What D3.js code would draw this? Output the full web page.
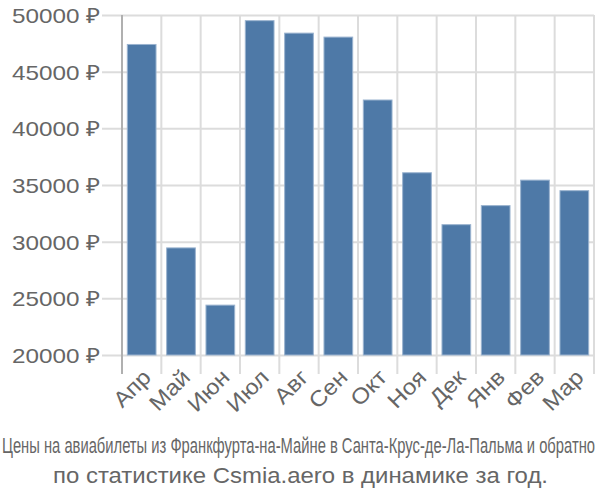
<!DOCTYPE html>
<html><head><meta charset="utf-8">
<script src="https://cdn.jsdelivr.net/npm/d3@7"></script>
<style>body{margin:0;background:#fff}svg{display:block}</style>
</head><body>
<script>
const months = ["Апр","Май","Июн","Июл","Авг","Сен","Окт","Ноя","Дек","Янв","Фев","Мар"];
const prices = [47400,29450,24400,49500,48400,48050,42500,36080,31500,33180,35430,34500];
const yTicks = [20000,25000,30000,35000,40000,45000,50000];
const title1 = "Цены на авиабилеты из Франкфурта-на-Майне в Санта-Крус-де-Ла-Пальма и обратно";
const title2 = "по статистике Csmia.aero в динамике за год.";

const W = 600, H = 500;
const m = {left:122, right:6, top:15, bottom:145};
const svg = d3.select("body").append("svg").attr("width",W).attr("height",H);
const x = d3.scaleBand().domain(months).range([m.left, W-m.right]).paddingInner(0.27).paddingOuter(0.135);
const y = d3.scaleLinear().domain([20000,50000]).range([H-m.bottom, m.top]);
const font = "'Liberation Sans', Arial, sans-serif";
function stretch(sel, k){ sel.each(function(){ const w=this.getComputedTextLength(); d3.select(this).attr("textLength",w*k).attr("lengthAdjust","spacingAndGlyphs"); }); }

// horizontal grid + ticks
const yAxis = d3.axisLeft(y).tickValues(yTicks).tickSize(W-m.right-m.left+20).tickFormat(d=>d+" ₽").tickPadding(2);
const gy = svg.append("g").attr("transform",`translate(${W-m.right},0)`).call(yAxis);
gy.select(".domain").remove();
gy.selectAll("line").attr("stroke","#dcdcdc").attr("stroke-width",2);
gy.selectAll("text").attr("font-family",font).attr("font-size",21).attr("fill","#666").attr("dy","0.36em")
  .each(function(){ d3.select(this).attr("textLength",88).attr("lengthAdjust","spacingAndGlyphs"); });

// vertical grid at band boundaries
const step = x.step();
const bounds = d3.range(months.length+1).map(i => m.left + i*step);
svg.append("g").selectAll("line").data(bounds).join("line")
  .attr("x1",d=>d).attr("x2",d=>d).attr("y1",m.top).attr("y2",H-m.bottom+19)
  .attr("stroke",(d,i)=>i===0?"#b0b0b0":"#dcdcdc").attr("stroke-width",2);

// bars
svg.append("g").selectAll("rect").data(prices).join("rect")
  .attr("x",(d,i)=>x(months[i])).attr("width",x.bandwidth())
  .attr("y",d=>y(d)).attr("height",d=>y(20000)-y(d))
  .attr("fill","#4e79a7").attr("stroke","#9ab3cf").attr("stroke-width",1);

// x labels
svg.append("g").selectAll("text").data(months).join("text")
  .attr("transform",d=>`translate(${x(d)+x.bandwidth()/2-1},${H-m.bottom+12}) rotate(-45)`)
  .attr("text-anchor","end").attr("dy","0.75em")
  .attr("font-family",font).attr("font-size",22).attr("fill","#666").text(d=>d)
  .call(stretch, 1.1);

// titles
svg.append("text").attr("x",298.5).attr("y",452.5).attr("text-anchor","middle")
  .attr("font-family",font).attr("font-size",22).attr("fill","#666")
  .attr("textLength",593).attr("lengthAdjust","spacingAndGlyphs").text(title1);
svg.append("text").attr("x",300.5).attr("y",483).attr("text-anchor","middle")
  .attr("font-family",font).attr("font-size",22).attr("fill","#666")
  .attr("textLength",495).attr("lengthAdjust","spacingAndGlyphs").text(title2);
</script>
</body></html>
